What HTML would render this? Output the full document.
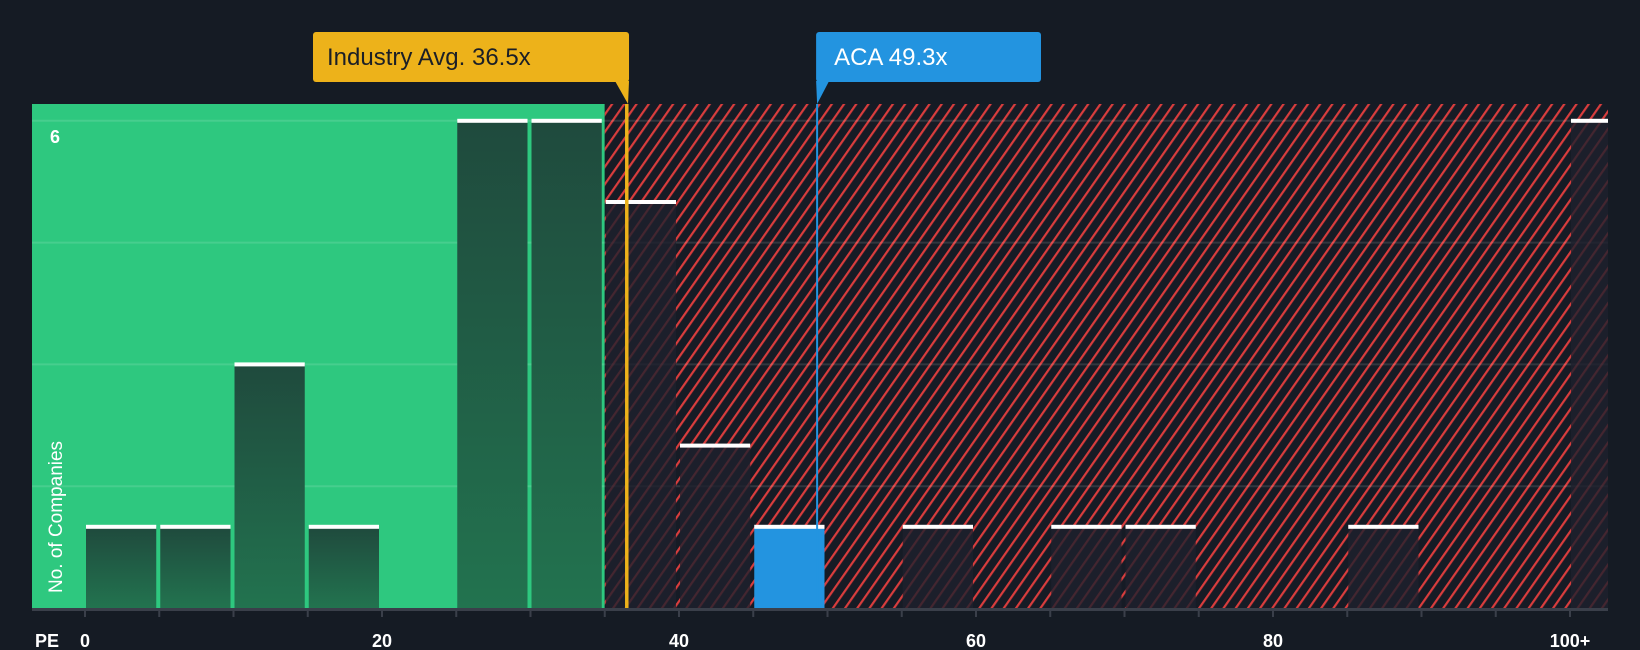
<!DOCTYPE html>
<html><head><meta charset="utf-8"><style>
html,body{margin:0;padding:0;background:#151b24;width:1640px;height:650px;overflow:hidden}
svg{display:block;font-family:"Liberation Sans",sans-serif}
</style></head><body>
<svg id="chart" width="1640" height="650">
<defs>
<pattern id="hatch" width="10" height="10" patternUnits="userSpaceOnUse" patternTransform="rotate(35)">
<rect width="10" height="10" fill="#161b25"/>
<rect x="0" y="0" width="2.2" height="10" fill="#d93d3d"/>
</pattern>
<linearGradient id="gbar" x1="0" y1="0" x2="0" y2="1">
<stop offset="0" stop-color="#1f4a3d"/><stop offset="1" stop-color="#22734f"/>
</linearGradient>
</defs>
<g id="bg"></g>
<g id="grid"></g>
<g id="bars"></g>
<g id="overlay"></g>
<g id="axis"></g>
</svg>
<script>
const binStarts = [0,5,10,15,20,25,30,35,40,45,50,55,60,65,70,75,80,85,90,95,100];
const counts    = [1,1,3,1,0,6,6,5,2,1,0,1,0,1,1,0,0,1,0,0,6];
const companyBin = 45;
const industryAvg = 36.5;
const companyPE = 49.3;
const xTicks = [0,20,40,60,80,100];
const xTickLabels = ["0","20","40","60","80","100+"];
const yGrid = [1.5,3,4.5,6];

const NS="http://www.w3.org/2000/svg";
const L=32,R=1608,T=104,B=608;
const x=v=>85+v*14.85;
const y=v=>B-v*81.2;
function mk(tag,attrs,parent){const e=document.createElementNS(NS,tag);for(const k in attrs)e.setAttribute(k,attrs[k]);parent.appendChild(e);return e;}
const bg=document.getElementById('bg'),grid=document.getElementById('grid'),bars=document.getElementById('bars'),ov=document.getElementById('overlay'),ax=document.getElementById('axis');

const g=mk('rect',{x:L,y:T,width:x(35)-L,height:B-T,fill:'#2ec87f'},bg);


const r=mk('rect',{x:x(35),y:T,width:R-x(35),height:B-T,fill:'url(#hatch)'},bg);



yGrid.forEach(v=>{const l=mk('line',{x1:L,x2:R,y1:y(v),y2:y(v),stroke:'rgba(255,255,255,0.12)','stroke-width':2},grid);

});

binStarts.forEach((s,i)=>{
 const c=counts[i]; if(!c) return;
 const x0=x(s)+1, w=x(s+5)-x(s)-4;
 const inGreen=s<35, isCo=s===companyBin;
 let right=Math.min(x0+w,R);
 const b=mk('rect',{x:x0,y:y(c),width:right-x0,height:B-y(c),fill:isCo?'#2394e0':(inGreen?'url(#gbar)':'rgba(30,32,45,0.8)')},bars);
 
 
 const cap=mk('rect',{x:x0,y:y(c)-2,width:right-x0,height:4,fill:'#ffffff'},bars);
 
 
});

const ia=x(industryAvg);
const il=mk('rect',{x:ia-2,y:T,width:3.5,height:B-T,fill:'#edb21a'},ov);


const ib=mk('rect',{x:313,y:32,width:ia+2-313,height:50,rx:3,fill:'#edb21a'},ov);


const ip=mk('polygon',{points:`${ia-12},81 ${ia+2},81 ${ia+1},${T}`,fill:'#edb21a'},ov);


const it=mk('text',{x:327,y:65,fill:'#1b1f27','font-size':24,'font-weight':500},ov);it.textContent='Industry Avg. '+industryAvg+'x';



const ca=x(companyPE);
const cl=mk('rect',{x:ca-1,y:T,width:2,height:B-T,fill:'#2394e0'},ov);


const cb=mk('rect',{x:ca-1,y:32,width:1041-ca+1,height:50,rx:3,fill:'#2394e0'},ov);


const cp=mk('polygon',{points:`${ca-1},81 ${ca+12},81 ${ca},${T}`,fill:'#2394e0'},ov);


const ct=mk('text',{x:ca+17,y:65,fill:'#ffffff','font-size':24,'font-weight':500},ov);ct.textContent='ACA '+companyPE+'x';



const base=mk('rect',{x:L,y:B,width:R-L,height:3,fill:'#3a3f4a'},ax);


for(let v=0;v<=100;v+=5){const t=mk('line',{x1:x(v),x2:x(v),y1:B,y2:B+9,stroke:'#3a3f4a','stroke-width':2},ax);

}
xTicks.forEach((v,i)=>{const t=mk('text',{x:x(v),y:647,fill:'#ffffff','font-size':18,'font-weight':'bold','text-anchor':'middle'},ax);t.textContent=xTickLabels[i];

});
const pe=mk('text',{x:35,y:647,fill:'#ffffff','font-size':18,'font-weight':'bold'},ax);pe.textContent='PE';


const six=mk('text',{x:50,y:143,fill:'#ffffff','font-size':18,'font-weight':'bold'},ax);six.textContent='6';


const yt=mk('text',{x:0,y:0,fill:'#ffffff','font-size':19,'text-anchor':'middle',transform:'translate(62,517) rotate(-90)'},ax);yt.textContent='No. of Companies';


</script>
</body></html>
